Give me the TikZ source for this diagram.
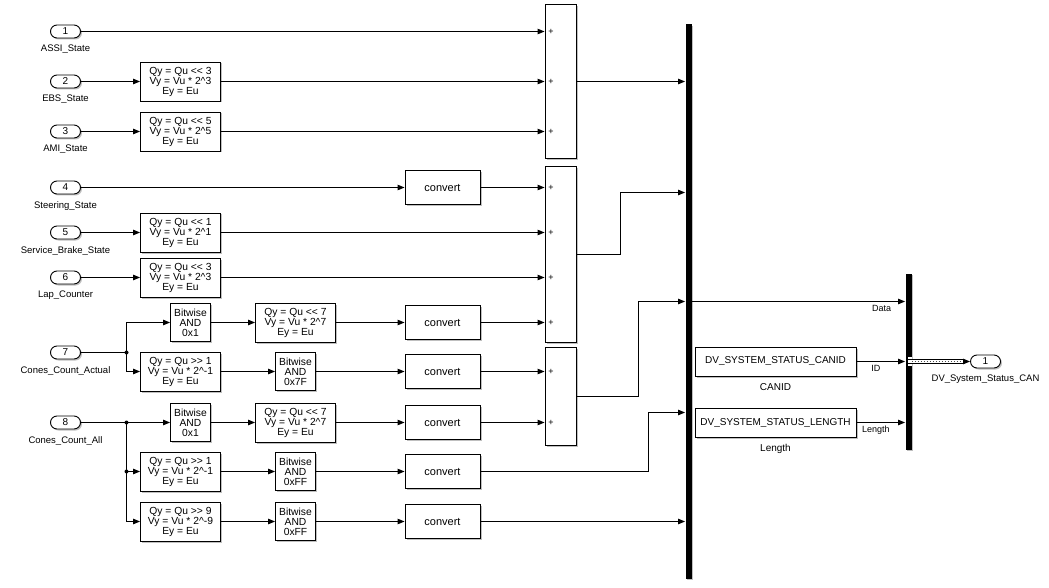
\documentclass[tikz,border=0pt]{standalone}
\usepackage{fontspec}
\setmainfont{Liberation Sans}
\usepackage{tikz}
\usetikzlibrary{arrows.meta,shapes.misc,shadows}

\begin{document}
\begin{tikzpicture}[x=1pt,y=-1pt,>={Triangle[length=7pt,width=5.5pt]},line width=0.9pt,
  every node/.style={font=\fontsize{10}{10}\selectfont},
  blockshadow/.style={drop shadow={shadow xshift=1.5pt,shadow yshift=-1.5pt,fill=black,opacity=0.25}},
  port/.style={rounded rectangle,draw,fill=white,minimum width=30pt,minimum height=13pt,inner sep=0pt,blockshadow},
  portname/.style={label={[label distance=3pt,font=\fontsize{9.5}{10}\selectfont]below:#1}},
  fixpt/.style={draw,fill=white,align=center,minimum width=80pt,minimum height=39pt,inner sep=1pt,
    font=\fontsize{10.3}{10}\selectfont,blockshadow},
  bitand/.style={draw,fill=white,align=center,minimum width=40pt,minimum height=38pt,inner sep=1pt,
    font=\fontsize{10.3}{10}\selectfont,blockshadow},
  conv/.style={draw,fill=white,minimum width=75pt,minimum height=34pt,font=\fontsize{11}{11}\selectfont,blockshadow},
  concat/.style={draw,fill=white,minimum width=31pt,inner sep=0pt,blockshadow},
  plus/.style={font=\fontsize{9}{8}\selectfont,inner sep=0pt},
  bar/.style={fill=black,draw=none,minimum width=6pt,inner sep=0pt,blockshadow},
  const/.style={draw,fill=white,minimum width=161pt,minimum height=29pt,blockshadow},
  sig/.style={font=\fontsize{9}{9}\selectfont,inner sep=3pt},
  dot/.style={circle,fill=black,inner sep=0pt,minimum size=4pt}]
  \useasboundingbox (-0.5,-0.5) rectangle (1048.5,587.5);

  % inports
  \node[port,portname=ASSI\_State] (in1) at (65,31) {1};
  \node[port,portname=EBS\_State] (in2) at (65,81) {2};
  \node[port,portname=AMI\_State] (in3) at (65,131) {3};
  \node[port,portname=Steering\_State] (in4) at (65,187) {4};
  \node[port,portname=Service\_Brake\_State] (in5) at (65,232) {5};
  \node[port,portname=Lap\_Counter] (in6) at (65,277) {6};
  \node[port,portname=Cones\_Count\_Actual] (in7) at (65,352) {7};
  \node[port,portname=Cones\_Count\_All] (in8) at (65,422) {8};

  % shifts
  \node[fixpt] (q2) at (180,81) {Qy = Qu <{}< 3\\Vy = Vu * 2\textasciicircum 3\\Ey = Eu};
  \node[fixpt] (q3) at (180,131) {Qy = Qu <{}< 5\\Vy = Vu * 2\textasciicircum 5\\Ey = Eu};
  \node[fixpt] (q5) at (180,232) {Qy = Qu <{}< 1\\Vy = Vu * 2\textasciicircum 1\\Ey = Eu};
  \node[fixpt] (q6) at (180,277) {Qy = Qu <{}< 3\\Vy = Vu * 2\textasciicircum 3\\Ey = Eu};
  \node[fixpt] (q7b) at (180,371) {Qy = Qu >{}> 1\\Vy = Vu * 2\textasciicircum -1\\Ey = Eu};
  \node[fixpt] (q8b) at (180,471) {Qy = Qu >{}> 1\\Vy = Vu * 2\textasciicircum -1\\Ey = Eu};
  \node[fixpt] (q8c) at (180,521) {Qy = Qu >{}> 9\\Vy = Vu * 2\textasciicircum -9\\Ey = Eu};
  \node[bitand] (and7) at (190,322) {Bitwise\\AND\\0x1};
  \node[bitand] (and8) at (190,422) {Bitwise\\AND\\0x1};
  \node[fixpt] (shl7) at (295,322) {Qy = Qu <{}< 7\\Vy = Vu * 2\textasciicircum 7\\Ey = Eu};
  \node[fixpt] (shl8) at (295,422) {Qy = Qu <{}< 7\\Vy = Vu * 2\textasciicircum 7\\Ey = Eu};
  \node[bitand] (mask7) at (295,371) {Bitwise\\AND\\0x7F};
  \node[bitand] (mask8b) at (295,471) {Bitwise\\AND\\0xFF};
  \node[bitand] (mask8c) at (295,521) {Bitwise\\AND\\0xFF};

  % converts
  \node[conv] (cv4) at (442,187) {convert};
  \node[conv] (cv7a) at (442,322) {convert};
  \node[conv] (cv7b) at (442,371) {convert};
  \node[conv] (cv8a) at (442,422) {convert};
  \node[conv] (cv8b) at (442,471) {convert};
  \node[conv] (cv8c) at (442,521) {convert};

  % bit concat
  \node[concat,minimum height=154pt] (cat1) at (560,81) {};
  \node[concat,minimum height=176pt] (cat2) at (560,254) {};
  \node[concat,minimum height=98pt] (cat3) at (560,396) {};
  \foreach \y in {31,81,131,187,232,277,322,371,422}
    \node[plus] at (550.5,\y) {+};

  % buses
  \node[bar,minimum height=554pt] (mux1) at (688,301) {};
  \node[bar,minimum height=176pt] (mux2) at (908,361) {};
  \node[const,label={[label distance=3pt]below:CANID}] (canid) at (775,361) {DV\_SYSTEM\_STATUS\_CANID};
  \node[const,label={[label distance=3pt]below:Length}] (len) at (775,422) {DV\_SYSTEM\_STATUS\_LENGTH};
  \node[port,portname=DV\_System\_Status\_CAN] (out1) at (985,361) {1};

  \coordinate (br7) at (126,352);
  \coordinate (br8) at (126,422);
  \coordinate (br8b) at (126,471);
  \coordinate (j2) at (620,192);
  \coordinate (j3) at (638,301);
  \coordinate (j4) at (648,412);

  \path[->]
    (in1) edge (in1 -| cat1.west)
    (in2) edge (q2)  (q2) edge (q2 -| cat1.west)
    (in3) edge (q3)  (q3) edge (q3 -| cat1.west)
    (in4) edge (cv4)  (cv4) edge (cv4 -| cat2.west)
    (in5) edge (q5)  (q5) edge (q5 -| cat2.west)
    (in6) edge (q6)  (q6) edge (q6 -| cat2.west)
    (and7) edge (shl7)  (shl7) edge (cv7a)  (cv7a) edge (cv7a -| cat2.west)
    (q7b) edge (mask7)  (mask7) edge (cv7b)  (cv7b) edge (cv7b -| cat3.west)
    (in8) edge (and8)  (and8) edge (shl8)  (shl8) edge (cv8a)  (cv8a) edge (cv8a -| cat3.west)
    (q8b) edge (mask8b)  (mask8b) edge (cv8b)
    (q8c) edge (mask8c)  (mask8c) edge (cv8c)  (cv8c) edge (cv8c -| mux1.west)
    (cat1) edge (cat1 -| mux1.west)
    (mux1) edge node[sig,below,pos=0.89] {Data} (mux1 -| mux2.west)
    (canid) edge node[sig,below,pos=0.4] {ID} (canid -| mux2.west)
    (len) edge node[sig,below,pos=0.4] {Length} (len -| mux2.west);

  % branches
  \draw (in7) -- (br7);
  \draw[->] (br7) |- (and7);
  \draw[->] (br7) |- (q7b);
  \draw[->] (br8) |- (q8b);
  \draw[->] (br8) |- (q8c);
  \node[dot] at (br7) {};
  \node[dot] at (br8) {};
  \node[dot] at (br8b) {};

  \draw[->] (cat2) -| (j2) -- (j2 -| mux1.west);
  \draw[->] (cat3) -| (j3) -- (j3 -| mux1.west);
  \draw[->] (cv8b) -| (j4) -- (j4 -| mux1.west);

  % bus out
  \fill[white] ([xshift=-4pt,yshift=-4.5pt]mux2.east) rectangle ([yshift=4.5pt]mux2.east);
  \draw[line width=5pt] ([xshift=-4pt]mux2.east) -- ([xshift=-6pt]out1.west);
  \draw[line width=3pt,white] ([xshift=-4pt]mux2.east) -- ([xshift=-6pt]out1.west);
  \draw[dotted,line width=1pt,black!70] (mux2.east) -- ([xshift=-6pt]out1.west);
  \draw[->] ([xshift=-7pt]out1.west) -- (out1.west);
\end{tikzpicture}
\end{document}
